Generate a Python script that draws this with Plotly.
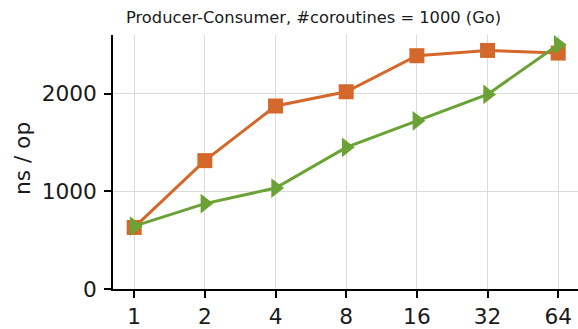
import plotly.graph_objects as go

threads = ["1", "2", "4", "8", "16", "32", "64"]
series_a = [630, 1314, 1873, 2019, 2388, 2442, 2415]
series_b = [643, 874, 1033, 1450, 1721, 1992, 2500]
y_ticks = [0, 1000, 2000]

idx = list(range(len(threads)))

fig = go.Figure()
fig.add_trace(go.Scatter(
    x=idx, y=series_a, mode="lines+markers",
    line=dict(color="#d4682a", width=3),
    marker=dict(symbol="square", size=15, color="#d4682a"),
    cliponaxis=False, showlegend=False))
fig.add_trace(go.Scatter(
    x=idx, y=series_b, mode="lines+markers",
    line=dict(color="#6ba236", width=3),
    marker=dict(symbol="triangle-right", size=17, color="#6ba236"),
    cliponaxis=False, showlegend=False))

font = "DejaVu Sans, sans-serif"
fig.update_layout(
    width=578, height=329,
    margin=dict(l=113, r=0, t=35, b=38),
    paper_bgcolor="white", plot_bgcolor="white",
    font=dict(family=font, size=21.7, color="#1a1a1a"),
    xaxis=dict(range=[-0.3, 6.28], tickmode="array", tickvals=idx, ticktext=threads,
               showgrid=True, gridcolor="#dcdcdc", gridwidth=1,
               showline=True, linecolor="black", linewidth=1.5,
               ticks="outside", ticklen=7, tickwidth=1.5, tickcolor="black",
               zeroline=False),
    yaxis=dict(range=[0, 2600], tickmode="array", tickvals=y_ticks,
               showgrid=True, gridcolor="#dcdcdc", gridwidth=1,
               showline=True, linecolor="black", linewidth=1.5,
               ticks="outside", ticklen=7, tickwidth=1.5, tickcolor="black",
               ticklabelstandoff=3, zeroline=False),
    annotations=[
        dict(text="Producer-Consumer, #coroutines = 1000 (Go)", xref="paper", yref="paper",
             x=(313 - 113) / 465, y=(329 - 17) / 256 - 38 / 256, xanchor="center", yanchor="middle",
             showarrow=False, font=dict(family=font, size=16.3, color="#1a1a1a")),
        dict(text="ns / op", xref="paper", yref="paper", textangle=-90,
             x=(22 - 113) / 465, y=(291 - 160) / 256, xanchor="center", yanchor="middle",
             showarrow=False, font=dict(family=font, size=21.7, color="#1a1a1a")),
    ],
)

fig.write_html("out.html")
